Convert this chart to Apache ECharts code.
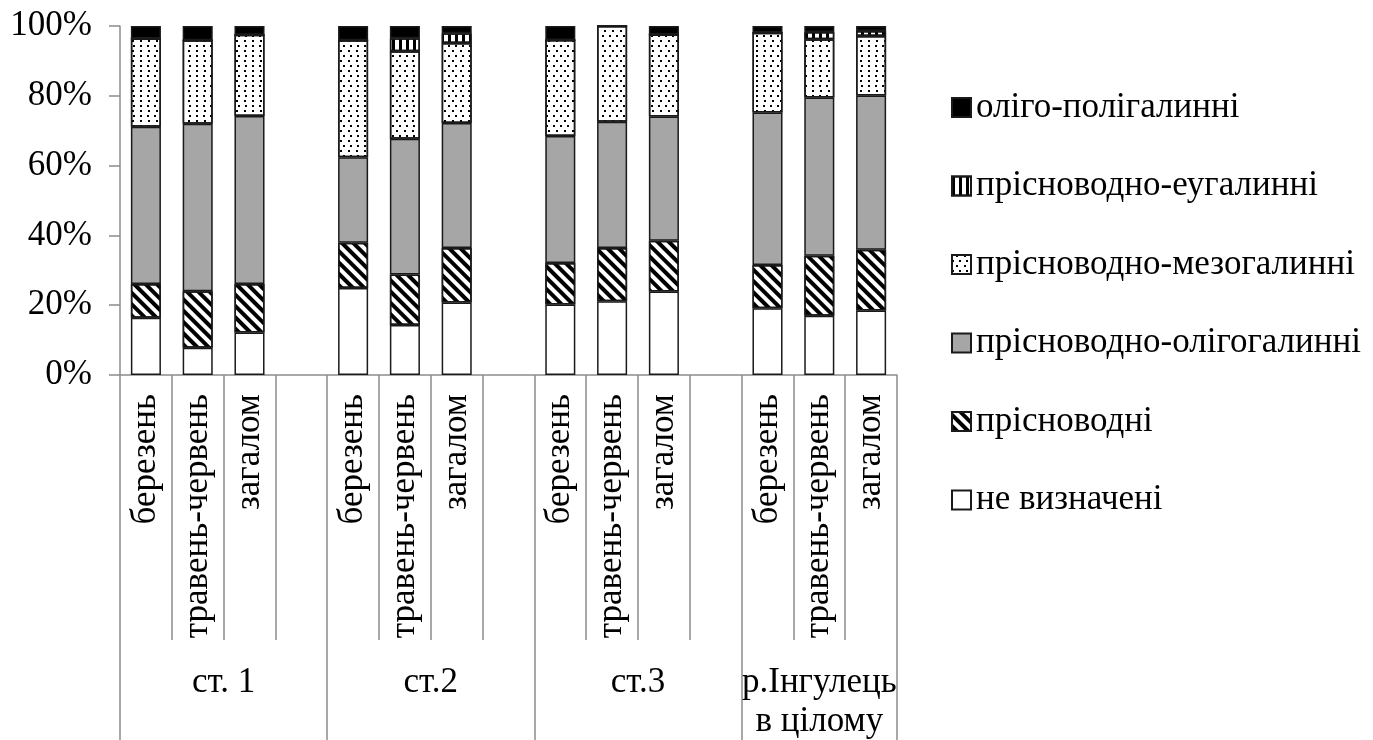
<!DOCTYPE html>
<html>
<head>
<meta charset="utf-8">
<script src="https://cdn.jsdelivr.net/npm/echarts@6/dist/echarts.min.js"></script>
<style>html,body{margin:0;padding:0;background:#fff}#c{width:1373px;height:740px}</style>
</head>
<body>
<div id="c"></div>
<script>
// ---- data ----
var categories = ['березень','травень-червень','загалом','',
                  'березень','травень-червень','загалом','',
                  'березень','травень-червень','загалом','',
                  'березень','травень-червень','загалом'];
var groupLabels = ['ст. 1','ст.2','ст.3','р.Інгулець\nв цілому'];
var groupSizes = [4, 4, 4, 3];
var seriesNames = ['не визначені','прісноводні','прісноводно-олігогалинні','прісноводно-мезогалинні','прісноводно-еугалинні','оліго-полігалинні'];
var neVyznacheni   = [16.4, 7.8, 12.2, '-', 24.9, 14.3, 20.8, '-', 20.2, 21.1, 23.9, '-', 19.1, 17.0, 18.5];
var prisnovodni    = [9.7, 16.2, 13.9, '-', 13.0, 14.5, 15.6, '-', 11.9, 15.3, 14.6, '-', 12.4, 17.2, 17.4];
var prisnOligo     = [45.0, 48.0, 48.1, '-', 24.5, 38.9, 35.8, '-', 36.4, 36.2, 35.6, '-', 43.7, 45.3, 44.2];
var prisnMezo      = [25.3, 23.9, 23.3, '-', 33.5, 25.1, 22.9, '-', 27.5, 27.4, 23.5, '-', 22.9, 16.7, 17.0];
var prisnEuh       = [0, 0, 0, '-', 0, 3.7, 2.8, '-', 0, 0, 0, '-', 0, 2.1, 1.5];
var oligoPoly      = [3.6, 4.1, 2.5, '-', 4.1, 3.5, 2.1, '-', 4.0, 0, 2.4, '-', 1.9, 1.7, 1.4];
var yTicks = [0, 20, 40, 60, 80, 100];

var FONT = '"Liberation Serif","Times New Roman",serif';
var FS = 35;

// group boundaries & centers derived from group sizes
var bounds = [0], centers = [];
groupSizes.forEach(function (s, i) { centers.push(bounds[i] + s / 2); bounds.push(bounds[i] + s); });

var styles = [
  { color: '#ffffff' },
  { color: '#ffffff', decal: { symbol: 'rect', color: '#000', dashArrayX: [1, 0], dashArrayY: [3.5, 3.5], rotation: Math.PI / 4 } },
  { color: '#a6a6a6' },
  { color: '#ffffff', decal: { symbol: 'rect', color: '#000', dashArrayX: [[2, 5], [0, 3.5, 2, 1.5]], dashArrayY: [2, 3] } },
  { color: '#ffffff', decal: { symbol: 'rect', color: '#000', dashArrayX: [3, 4], dashArrayY: [1, 0] } },
  { color: '#000000' }
];
var values = [neVyznacheni, prisnovodni, prisnOligo, prisnMezo, prisnEuh, oligoPoly];

var series = values.map(function (d, i) {
  var st = Object.assign({ borderColor: '#1a1a1a', borderWidth: 1.5 }, styles[i]);
  return {
    name: seriesNames[i], type: 'bar', stack: 'all', data: d,
    barCategoryGap: '42%', itemStyle: st, xAxisIndex: 0, yAxisIndex: 0
  };
});

var chart = echarts.init(document.getElementById('c'), null, { renderer: 'canvas' });
chart.setOption({
  animation: false,
  backgroundColor: '#fff',
  grid: { left: 120, right: 476, top: 26, bottom: 365, containLabel: false, outerBoundsMode: 'none' },
  legend: {
    orient: 'vertical', left: 946, top: 85,
    icon: 'rect',
    data: seriesNames.slice().reverse(),
    itemWidth: 19, itemHeight: 19, itemGap: 43.5,
    textStyle: { fontFamily: FONT, fontSize: FS, color: '#000', lineHeight: 35 },
    selectedMode: false
  },
  xAxis: [{
    type: 'category', data: categories, position: 'bottom',
    axisLine: { show: true, lineStyle: { color: '#8c8c8c', width: 1.5 } },
    axisTick: { show: true, interval: 0, length: 265, lineStyle: { color: '#8c8c8c', width: 1.5 } },
    axisLabel: { interval: 0, rotate: 90, margin: 19, fontFamily: FONT, fontSize: FS, color: '#000' },
    splitLine: { show: false }
  }, {
    type: 'value', min: 0, max: categories.length, position: 'bottom',
    axisLine: { show: false },
    axisTick: { show: true, customValues: bounds, length: 365, lineStyle: { color: '#8c8c8c', width: 1.5 } },
    axisLabel: {
      customValues: centers, margin: 288, fontFamily: FONT, fontSize: FS, color: '#000', lineHeight: 39,
      formatter: function (v) { var k = centers.indexOf(v); return k >= 0 ? groupLabels[k] : ''; }
    },
    splitLine: { show: false }
  }],
  yAxis: {
    type: 'value', min: 0, max: 100, interval: 20,
    axisLine: { show: true, lineStyle: { color: '#8c8c8c', width: 1.5 } },
    axisTick: { show: true, length: 11, lineStyle: { color: '#8c8c8c', width: 1.5 } },
    axisLabel: { margin: 28, fontFamily: FONT, fontSize: FS, color: '#000',
      formatter: function (v) { return yTicks.indexOf(v) >= 0 ? v + '%' : ''; } },
    splitLine: { show: false }
  },
  series: series
});
</script>
</body>
</html>
